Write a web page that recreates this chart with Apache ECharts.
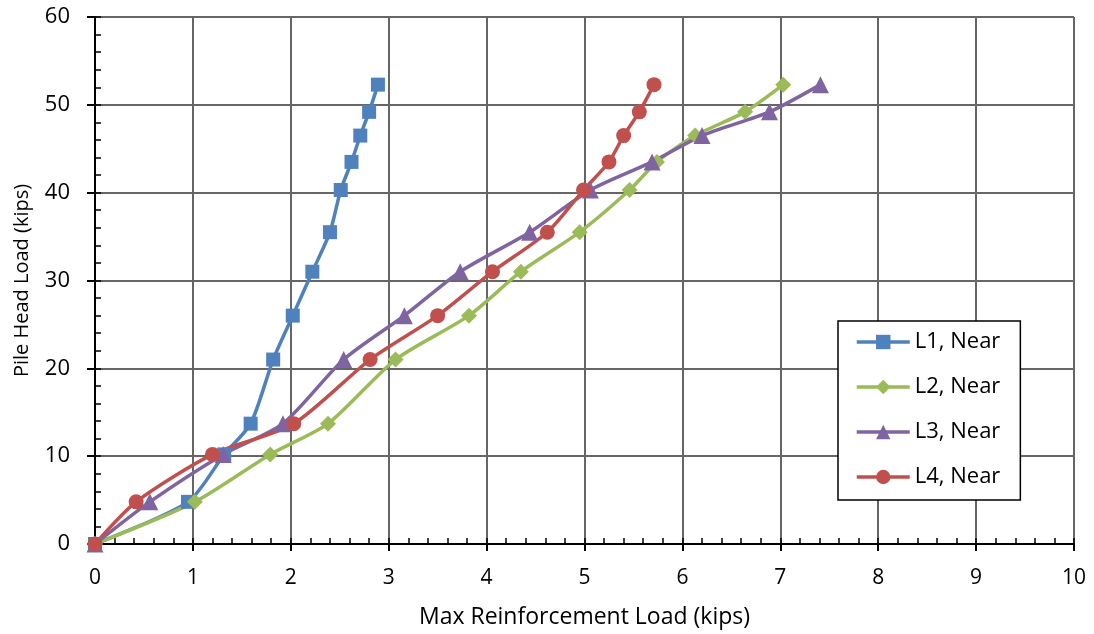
<!DOCTYPE html>
<html>
<head>
<meta charset="utf-8">
<script src="https://cdn.jsdelivr.net/npm/echarts@6/dist/echarts.min.js"></script>
<style>
html, body { margin: 0; padding: 0; background: #fff; }
#chart { width: 1094px; height: 634px; }
</style>
</head>
<body>
<div id="chart"></div>
<script>
// pile head load (kips), shared by every series
const pileLoad = [0, 4.8, 10.2, 13.7, 21.0, 26.0, 31.0, 35.5, 40.3, 43.5, 46.5, 49.2, 52.3]
// max reinforcement load (kips) for each gauge line
const l1Near = [0, 0.95, 1.32, 1.59, 1.82, 2.02, 2.22, 2.40, 2.51, 2.62, 2.71, 2.80, 2.89]
const l2Near = [0, 1.02, 1.79, 2.38, 3.07, 3.82, 4.35, 4.95, 5.46, 5.74, 6.13, 6.64, 7.03]
const l3Near = [0, 0.56, 1.31, 1.92, 2.54, 3.16, 3.73, 4.44, 5.06, 5.69, 6.20, 6.89, 7.41]
const l4Near = [0, 0.42, 1.20, 2.03, 2.81, 3.50, 4.06, 4.62, 4.99, 5.25, 5.40, 5.56, 5.71]
const seriesNames = ['L1, Near', 'L2, Near', 'L3, Near', 'L4, Near']
const xTicks = [0, 1, 2, 3, 4, 5, 6, 7, 8, 9, 10]
const yTicks = [0, 10, 20, 30, 40, 50, 60]

const pairs = xs => xs.map((x, i) => [x, pileLoad[i]])
const font = 'Open Sans'

const chart = echarts.init(document.getElementById('chart'))

const makeSeries = (name, xs, color, symbol, size) => ({
  name: name,
  type: 'line',
  data: pairs(xs),
  smooth: 0.25,
  symbol: symbol,
  symbolSize: size,
  lineStyle: { color: color, width: 3.5 },
  itemStyle: { color: color },
  xAxisIndex: 0,
  yAxisIndex: 0
})

const option = {
  backgroundColor: '#fff',
  animation: false,
  grid: { left: 95, right: 20, top: 17, bottom: 90 },
  legend: {
    orient: 'vertical',
    left: 838,
    top: 321,
    padding: [9, 20, 11, 17],
    itemGap: 21,
    itemWidth: 53,
    itemHeight: 18,
    backgroundColor: '#fff',
    borderColor: '#000',
    borderWidth: 1.5,
    borderRadius: 0,
    lineStyle: { width: 3.5 },
    textStyle: { fontFamily: font, fontSize: 22, color: '#000', lineHeight: 24 },
    data: seriesNames
  },
  xAxis: [{
    type: 'value',
    min: xTicks[0],
    max: xTicks[xTicks.length - 1],
    interval: 1,
    name: 'Max Reinforcement Load (kips)',
    nameLocation: 'middle',
    nameGap: 62,
    nameTextStyle: { fontFamily: font, fontSize: 23, color: '#000' },
    axisLine: { show: true, lineStyle: { color: '#000', width: 2 } },
    axisTick: { show: true, inside: false, length: 7, lineStyle: { color: '#000', width: 2 } },
    axisLabel: { fontFamily: font, fontSize: 21, color: '#000', margin: 24 },
    splitLine: { show: true, lineStyle: { color: '#666', width: 2 } }
  }, {
    type: 'value',
    position: 'bottom',
    min: 0,
    max: 10,
    interval: 0.2,
    axisLine: { show: false },
    axisTick: { show: true, inside: true, length: 6, lineStyle: { color: '#000', width: 1.5 } },
    axisLabel: { show: false },
    splitLine: { show: false }
  }],
  yAxis: [{
    type: 'value',
    min: yTicks[0],
    max: yTicks[yTicks.length - 1],
    interval: 10,
    name: 'Pile Head Load (kips)',
    nameLocation: 'middle',
    nameGap: 63,
    nameTextStyle: { fontFamily: font, fontSize: 20, color: '#000' },
    axisLine: { show: true, lineStyle: { color: '#000', width: 2 } },
    axisTick: { show: true, inside: false, length: 8, lineStyle: { color: '#000', width: 2 } },
    axisLabel: { fontFamily: font, fontSize: 22, color: '#000', margin: 25 },
    splitLine: { show: true, lineStyle: { color: '#666', width: 2 } }
  }, {
    type: 'value',
    position: 'left',
    min: 0,
    max: 60,
    interval: 2,
    axisLine: { show: false },
    axisTick: { show: true, inside: true, length: 6, lineStyle: { color: '#000', width: 1.5 } },
    axisLabel: { show: false },
    splitLine: { show: false }
  }],
  series: [
    makeSeries(seriesNames[0], l1Near, '#4F81BD', 'rect', 14),
    makeSeries(seriesNames[1], l2Near, '#9BBB59', 'diamond', 16),
    makeSeries(seriesNames[2], l3Near, '#8064A2', 'triangle', 17),
    makeSeries(seriesNames[3], l4Near, '#C0504D', 'circle', 15)
  ]
}

option && chart.setOption(option)
</script>
</body>
</html>
